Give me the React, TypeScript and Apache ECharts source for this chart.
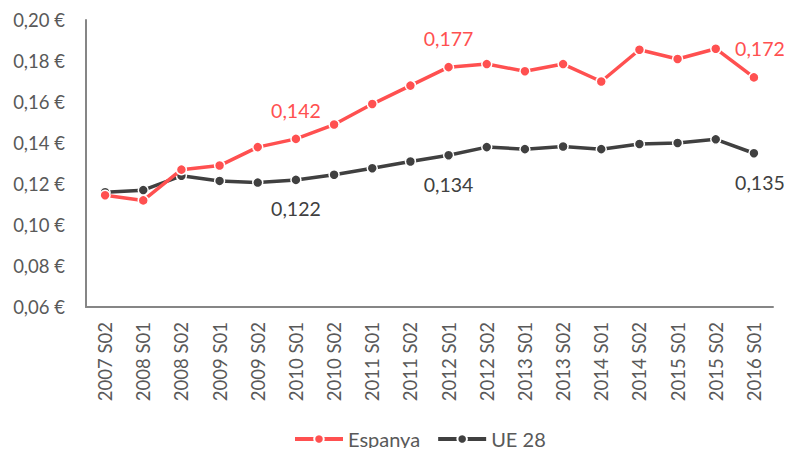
import React, { useEffect, useRef } from "react";
import * as echarts from "echarts";

const categories = [
  "2007 S02", "2008 S01", "2008 S02", "2009 S01", "2009 S02", "2010 S01",
  "2010 S02", "2011 S01", "2011 S02", "2012 S01", "2012 S02", "2013 S01",
  "2013 S02", "2014 S01", "2014 S02", "2015 S01", "2015 S02", "2016 S01",
];
const espanya = [
  0.1145, 0.112, 0.127, 0.129, 0.138, 0.142, 0.149, 0.159, 0.168, 0.177,
  0.1785, 0.175, 0.1785, 0.170, 0.1855, 0.181, 0.186, 0.172,
];
const ue28 = [
  0.116, 0.117, 0.124, 0.1215, 0.1207, 0.122, 0.1245, 0.1277, 0.131, 0.134,
  0.138, 0.137, 0.1383, 0.137, 0.1395, 0.140, 0.1418, 0.135,
];
const labelledIndices = [5, 9, 17];

const RED = "#ff5050";
const DARK = "#404040";
const FONT = "Lato, 'Open Sans', sans-serif";

const fmt3 = (v: number) => v.toFixed(3).replace(".", ",");

export default function App() {
  const ref = useRef<HTMLDivElement>(null);
  useEffect(() => {
    if (!ref.current) return;
    const chart = echarts.init(ref.current, undefined, { renderer: "svg" });
    const mk = (vals: number[], color: string, pos: "top" | "bottom") =>
      vals.map((v, i) =>
        labelledIndices.includes(i)
          ? {
              value: v,
              label: {
                show: true,
                position: pos,
                distance: 13,
                offset: i === vals.length - 1 ? [6, 0] : [0, 0],
                formatter: () => fmt3(v),
                color,
                fontSize: 19.5,
                fontFamily: FONT,
              },
            }
          : v
      );
    chart.setOption({
      animation: false,
      textStyle: { fontFamily: FONT },
      grid: { left: 86, right: 19, top: 20, bottom: 149, containLabel: false },
      legend: {
        top: 429,
        left: 293,
        padding: 0,
        itemWidth: 48,
        itemHeight: 12,
        itemGap: 16,
        lineStyle: { width: 4 },
        textStyle: { color: "#595959", fontSize: 20, fontFamily: FONT },
        data: ["Espanya", "UE 28"],
      },
      xAxis: {
        type: "category",
        data: categories,
        boundaryGap: true,
        axisLine: { lineStyle: { color: "#868686", width: 2 } },
        axisTick: { show: false },
        axisLabel: {
          rotate: 90,
          color: "#595959",
          fontSize: 18.5,
          margin: 15,
          fontFamily: FONT,
        },
      },
      yAxis: {
        type: "value",
        min: 0.06,
        max: 0.2,
        interval: 0.02,
        axisLine: { show: true, lineStyle: { color: "#868686", width: 2 } },
        axisTick: { show: false },
        splitLine: { show: false },
        axisLabel: {
          color: "#595959",
          fontSize: 18.5,
          margin: 21,
          fontFamily: FONT,
          formatter: (v: number) => v.toFixed(2).replace(".", ",") + " €",
        },
      },
      series: [
        {
          name: "Espanya",
          type: "line",
          data: mk(espanya, RED, "top"),
          color: RED,
          lineStyle: { color: RED, width: 3.5 },
          symbol: "circle",
          symbolSize: 10,
          itemStyle: { color: RED, borderColor: "#ffffff", borderWidth: 1.5 },
          z: 3,
        },
        {
          name: "UE 28",
          type: "line",
          data: mk(ue28, DARK, "bottom"),
          color: DARK,
          lineStyle: { color: DARK, width: 3.5 },
          symbol: "circle",
          symbolSize: 10,
          itemStyle: { color: DARK, borderColor: "#ffffff", borderWidth: 1.5 },
          z: 2,
        },
      ],
    });
    return () => chart.dispose();
  }, []);
  return <div ref={ref} style={{ width: 792, height: 456, margin: -8 }} />;
}
